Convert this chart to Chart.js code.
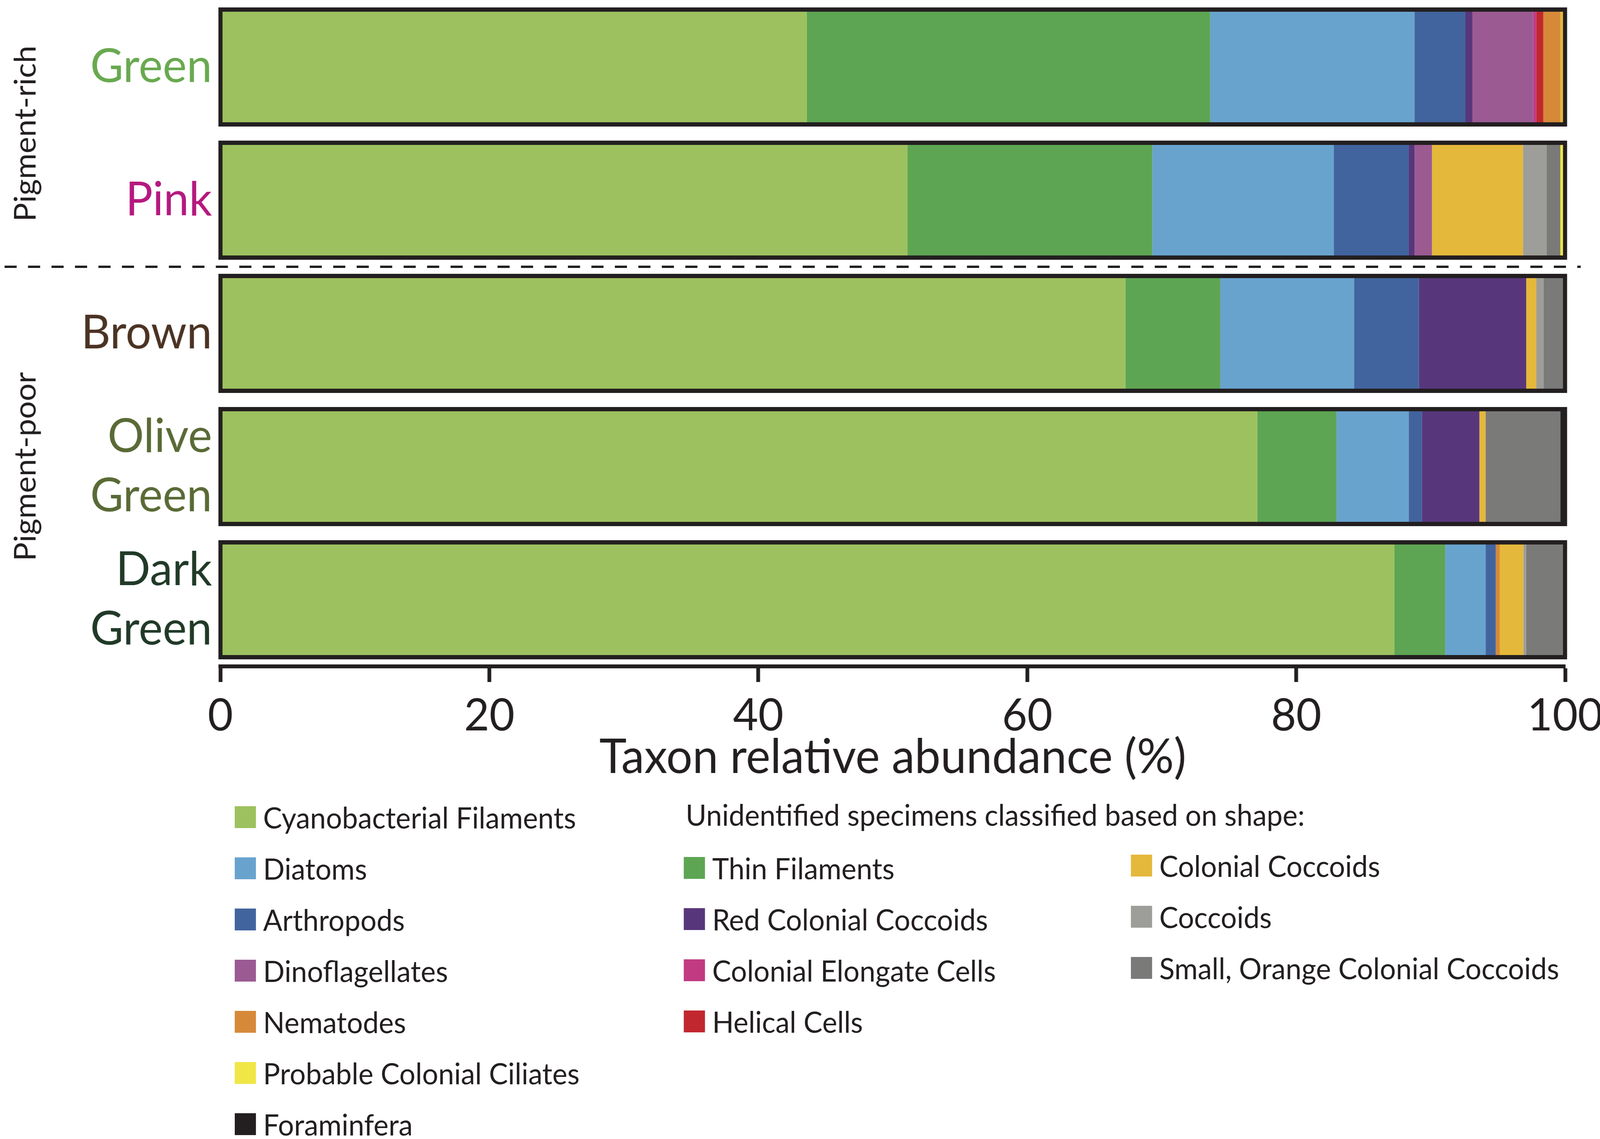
<!DOCTYPE html>
<html>
<head>
<meta charset="utf-8">
<script src="https://cdn.jsdelivr.net/npm/chart.js@4.4.1/dist/chart.umd.min.js"></script>
<style>
  html, body { margin: 0; padding: 0; background: #fff; overflow: hidden; }
  #page { position: absolute; left: 0; top: 0; width: 4226px; height: 2916px; transform-origin: 0 0;
          font-family: Lato, sans-serif; color: #231f20; background: #fff; }
  #wrap { position: absolute; left: 0; top: 0; width: 4226px; height: 2013px; }
  .item { position: absolute; display: flex; align-items: center; height: 56px; font-size: 75px; line-height: 1; white-space: nowrap; }
  .sw { width: 56px; height: 56px; margin-right: 19px; flex: none; }
  .head { position: absolute; font-size: 75px; line-height: 1; white-space: nowrap; }
</style>
</head>
<body>
<div id="page">
  <div id="wrap"><canvas id="chart"></canvas></div>
  <div id="legend"></div>
</div>
<script>
// mat samples (top to bottom)
const samples = ['Green', 'Pink', 'Brown', ['Olive', 'Green'], ['Dark', 'Green']];
const sampleColors = ['#69a94f', '#b5197f', '#4b3323', '#5a6a36', '#213a28'];

const groups = [
  { label: 'Pigment-rich', from: 0, to: 1 },
  { label: 'Pigment-poor', from: 2, to: 4 }
];

// taxa in stacking order, left to right
const taxa = ['Cyanobacterial Filaments', 'Thin Filaments', 'Diatoms', 'Arthropods', 'Red Colonial Coccoids',
  'Dinoflagellates', 'Colonial Elongate Cells', 'Helical Cells', 'Nematodes', 'Colonial Coccoids',
  'Coccoids', 'Small, Orange Colonial Coccoids', 'Probable Colonial Ciliates', 'Foraminfera'];
const taxaColors = ['#9dc15f', '#5da553', '#68a3ce', '#41649e', '#58367c',
  '#9b5a92', '#c13a82', '#c1272f', '#d68939', '#e4b83b',
  '#9d9d99', '#7a7a78', '#f0e646', '#231f20'];

// relative abundance (%) per sample: Green, Pink, Brown, Olive Green, Dark Green
const cyanobacterial = [43.6, 51.1, 67.3, 77.1, 87.3];
const thinFilaments  = [30.0, 18.2, 7.05, 5.9, 3.78];
const diatoms        = [15.2, 13.5, 9.95, 5.36, 3.01];
const arthropods     = [3.77, 5.57, 4.82, 0.98, 0.75];
const redColonial    = [0.53, 0.44, 7.98, 4.28, 0];
const dinoflagellates= [4.52, 1.28, 0, 0, 0];
const colElongate    = [0.23, 0, 0, 0, 0];
const helical        = [0.52, 0, 0, 0, 0];
const nematodes      = [1.27, 0, 0, 0, 0.29];
const colCoccoids    = [0.23, 6.78, 0.76, 0.46, 1.76];
const coccoids       = [0, 1.74, 0.53, 0, 0.2];
const smallOrange    = [0, 1.03, 1.75, 5.56, 3.05];
const ciliates       = [0.27, 0.5, 0, 0, 0];
const foraminifera   = [0, 0, 0, 0.5, 0];

const series = [cyanobacterial, thinFilaments, diatoms, arthropods, redColonial, dinoflagellates,
  colElongate, helical, nematodes, colCoccoids, coccoids, smallOrange, ciliates, foraminifera];

const xTicks = [0, 20, 40, 60, 80, 100];

// legend layout (three columns, as in the figure)
const legendCol1 = ['Cyanobacterial Filaments', 'Diatoms', 'Arthropods', 'Dinoflagellates', 'Nematodes',
  'Probable Colonial Ciliates', 'Foraminfera'];
const legendHeader = 'Unidentified specimens classified based on shape:';
const legendCol2 = ['Thin Filaments', 'Red Colonial Coccoids', 'Colonial Elongate Cells', 'Helical Cells'];
const legendCol3 = ['Colonial Coccoids', 'Coccoids', 'Small, Orange Colonial Coccoids'];

const ink = '#231f20';

// the browser may give a narrower viewport than 4226, squeeze the layout to fit it
const sx = window.innerWidth / 4226;
const sy = window.innerHeight / 2916;
document.getElementById('page').style.transform = 'scale(' + sx + ',' + sy + ')';

const datasets = series.map((vals, i) => ({
  label: taxa[i],
  data: vals,
  backgroundColor: taxaColors[i],
  borderWidth: 0
}));
// black frame around every bar, centred on 0 and 100
datasets.push({
  label: 'frame',
  data: samples.map(() => [-0.15, 100.15]),
  stack: 'frame',
  backgroundColor: 'rgba(0,0,0,0)',
  borderColor: ink,
  borderWidth: 11,
  borderSkipped: false,
  order: -1
});

const groupPlugin = {
  id: 'groups',
  afterDraw(chart) {
    const ctx = chart.ctx;
    const y = chart.scales.y;
    const p = i => y.getPixelForValue(i);
    ctx.save();
    const sepY = (p(1) + p(2)) / 2;
    ctx.strokeStyle = ink;
    ctx.lineWidth = 6;
    ctx.setLineDash([32, 30]);
    ctx.beginPath();
    ctx.moveTo(12, sepY);
    ctx.lineTo(4175, sepY);
    ctx.stroke();
    ctx.setLineDash([]);
    ctx.font = '80px Lato';
    ctx.fillStyle = ink;
    ctx.textAlign = 'center';
    ctx.textBaseline = 'alphabetic';
    groups.forEach(g => {
      const cy = (p(g.from) + p(g.to)) / 2;
      ctx.save();
      ctx.translate(94, cy);
      ctx.rotate(-Math.PI / 2);
      ctx.fillText(g.label, 0, 0);
      ctx.restore();
    });
    ctx.restore();
  }
};

new Chart(document.getElementById('chart'), {
  type: 'bar',
  data: { labels: samples, datasets: datasets },
  plugins: [groupPlugin],
  options: {
    responsive: true,
    maintainAspectRatio: false,
    animation: false,
    indexAxis: 'y',
    layout: { padding: { top: 1, right: 92, left: 0, bottom: 0 } },
    datasets: { bar: { grouped: false, barPercentage: 0.895, categoryPercentage: 1, clip: false } },
    plugins: { legend: { display: false }, tooltip: { enabled: false } },
    scales: {
      x: {
        stacked: true,
        min: 0,
        max: 100,
        afterBuildTicks: s => { s.ticks = xTicks.map(v => ({ value: v })); },
        ticks: { font: { family: 'Lato', size: 115 }, color: ink, padding: 18, maxRotation: 0 },
        grid: { drawOnChartArea: false, drawTicks: true, tickLength: 40, tickWidth: 10, tickColor: ink },
        border: { display: true, width: 10, color: ink },
        title: { display: true, text: 'Taxon relative abundance (%)', font: { family: 'Lato', size: 122 },
                 color: ink, padding: 0 },
        afterFit: s => { s.height = 307; s.paddingLeft = 0; s.paddingRight = 0; }
      },
      y: {
        stacked: true,
        grid: { display: false, drawTicks: false },
        border: { display: false },
        ticks: { font: { family: 'Lato', size: 120, lineHeight: 1.27 }, color: c => sampleColors[c.index], padding: 22 },
        afterFit: s => { s.width = 582; s.paddingTop = 0; s.paddingBottom = 0; }
      }
    }
  }
});

// legend
const legend = document.getElementById('legend');
function addItem(name, left, centerY) {
  const d = document.createElement('div');
  d.className = 'item';
  d.style.left = left + 'px';
  d.style.top = (centerY - 28) + 'px';
  const sw = document.createElement('span');
  sw.className = 'sw';
  sw.style.background = taxaColors[taxa.indexOf(name)];
  const t = document.createElement('span');
  t.textContent = name;
  d.appendChild(sw);
  d.appendChild(t);
  legend.appendChild(d);
}
legendCol1.forEach((n, i) => addItem(n, 620, 2092 + 131 * i));
legendCol2.forEach((n, i) => addItem(n, 1806, 2222 + 131 * i));
legendCol3.forEach((n, i) => addItem(n, 2987, 2216 + 131 * i));
const h = document.createElement('div');
h.className = 'head';
h.style.left = '1811px';
h.style.top = '2048px';
h.textContent = legendHeader;
legend.appendChild(h);
</script>
</body>
</html>
